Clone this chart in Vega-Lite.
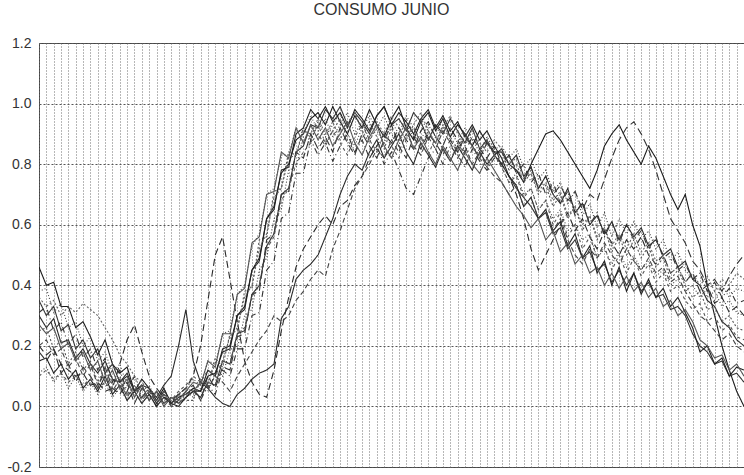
{
"$schema": "https://vega.github.io/schema/vega-lite/v6.json",
"width": 705, "height": 424,
"autosize": {"type": "none"},
"padding": {"left": 39, "top": 43, "right": 0, "bottom": 8},
"background": "white",
"title": {"text": "CONSUMO JUNIO", "font": "Liberation Sans", "fontSize": 16, "fontWeight": "normal", "color": "#333", "offset": 18, "dx": -10},
"config": {"view": {"stroke": "#444", "strokeWidth": 1}},
"data": {"values": [
{"t":0,"A":0.46,"B":0.35,"C":0.20,"D":0.30,"E":0.38,"F":0.18,"G":0.25,"H":0.15,"I":0.31,"J":0.20,"K":0.11,"L":0.27,"M":0.36,"N":0.10},
{"t":1,"A":0.40,"B":0.30,"C":0.17,"D":0.26,"E":0.39,"F":0.15,"G":0.26,"H":0.16,"I":0.33,"J":0.22,"K":0.13,"L":0.24,"M":0.33,"N":0.12},
{"t":2,"A":0.41,"B":0.33,"C":0.19,"D":0.29,"E":0.31,"F":0.19,"G":0.19,"H":0.11,"I":0.25,"J":0.17,"K":0.08,"L":0.26,"M":0.35,"N":0.09},
{"t":3,"A":0.33,"B":0.25,"C":0.14,"D":0.21,"E":0.34,"F":0.11,"G":0.22,"H":0.14,"I":0.28,"J":0.19,"K":0.11,"L":0.19,"M":0.30,"N":0.11},
{"t":4,"A":0.33,"B":0.27,"C":0.12,"D":0.22,"E":0.26,"F":0.14,"G":0.14,"H":0.09,"I":0.20,"J":0.13,"K":0.06,"L":0.21,"M":0.33,"N":0.08},
{"t":5,"A":0.26,"B":0.19,"C":0.10,"D":0.16,"E":0.28,"F":0.08,"G":0.18,"H":0.12,"I":0.24,"J":0.16,"K":0.10,"L":0.15,"M":0.31,"N":0.10},
{"t":6,"A":0.28,"B":0.22,"C":0.11,"D":0.19,"E":0.20,"F":0.13,"G":0.12,"H":0.06,"I":0.16,"J":0.10,"K":0.05,"L":0.18,"M":0.34,"N":0.07},
{"t":7,"A":0.23,"B":0.16,"C":0.07,"D":0.14,"E":0.23,"F":0.10,"G":0.15,"H":0.09,"I":0.19,"J":0.14,"K":0.08,"L":0.12,"M":0.32,"N":0.09},
{"t":8,"A":0.17,"B":0.19,"C":0.08,"D":0.11,"E":0.15,"F":0.06,"G":0.08,"H":0.05,"I":0.12,"J":0.07,"K":0.04,"L":0.15,"M":0.30,"N":0.06},
{"t":9,"A":0.22,"B":0.11,"C":0.05,"D":0.15,"E":0.18,"F":0.13,"G":0.13,"H":0.10,"I":0.16,"J":0.11,"K":0.08,"L":0.08,"M":0.26,"N":0.08},
{"t":10,"A":0.14,"B":0.14,"C":0.06,"D":0.09,"E":0.11,"F":0.06,"G":0.07,"H":0.04,"I":0.08,"J":0.05,"K":0.03,"L":0.12,"M":0.22,"N":0.05},
{"t":11,"A":0.11,"B":0.08,"C":0.14,"D":0.08,"E":0.14,"F":0.04,"G":0.10,"H":0.07,"I":0.12,"J":0.09,"K":0.06,"L":0.06,"M":0.17,"N":0.07},
{"t":12,"A":0.13,"B":0.10,"C":0.22,"D":0.11,"E":0.07,"F":0.08,"G":0.04,"H":0.02,"I":0.05,"J":0.03,"K":0.02,"L":0.09,"M":0.14,"N":0.04},
{"t":13,"A":0.05,"B":0.05,"C":0.27,"D":0.05,"E":0.10,"F":0.01,"G":0.07,"H":0.05,"I":0.10,"J":0.07,"K":0.05,"L":0.03,"M":0.10,"N":0.06},
{"t":14,"A":0.09,"B":0.07,"C":0.18,"D":0.07,"E":0.05,"F":0.06,"G":0.03,"H":0.01,"I":0.03,"J":0.02,"K":0.01,"L":0.07,"M":0.08,"N":0.03},
{"t":15,"A":0.06,"B":0.02,"C":0.10,"D":0.06,"E":0.07,"F":0.04,"G":0.06,"H":0.04,"I":0.06,"J":0.05,"K":0.04,"L":0.02,"M":0.05,"N":0.05},
{"t":16,"A":0.02,"B":0.05,"C":0.06,"D":0.03,"E":0.02,"F":0.00,"G":0.01,"H":0.00,"I":0.01,"J":0.01,"K":0.00,"L":0.05,"M":0.04,"N":0.02},
{"t":17,"A":0.06,"B":0.01,"C":0.03,"D":0.07,"E":0.04,"F":0.06,"G":0.04,"H":0.03,"I":0.05,"J":0.04,"K":0.03,"L":0.00,"M":0.02,"N":0.04},
{"t":18,"A":0.01,"B":0.03,"C":0.02,"D":0.10,"E":0.01,"F":0.00,"G":0.00,"H":0.01,"I":0.01,"J":0.01,"K":0.00,"L":0.03,"M":0.03,"N":0.02},
{"t":19,"A":0.03,"B":0.01,"C":0.04,"D":0.20,"E":0.04,"F":0.02,"G":0.03,"H":0.00,"I":0.04,"J":0.04,"K":0.03,"L":0.02,"M":0.01,"N":0.05},
{"t":20,"A":0.04,"B":0.03,"C":0.06,"D":0.32,"E":0.06,"F":0.05,"G":0.02,"H":0.03,"I":0.03,"J":0.06,"K":0.05,"L":0.05,"M":0.04,"N":0.07},
{"t":21,"A":0.06,"B":0.05,"C":0.10,"D":0.15,"E":0.09,"F":0.07,"G":0.02,"H":0.05,"I":0.06,"J":0.05,"K":0.03,"L":0.08,"M":0.04,"N":0.10},
{"t":22,"A":0.05,"B":0.03,"C":0.20,"D":0.08,"E":0.07,"F":0.02,"G":0.09,"H":0.05,"I":0.02,"J":0.08,"K":0.06,"L":0.07,"M":0.08,"N":0.08},
{"t":23,"A":0.12,"B":0.08,"C":0.35,"D":0.06,"E":0.15,"F":0.10,"G":0.07,"H":0.10,"I":0.07,"J":0.06,"K":0.05,"L":0.15,"M":0.08,"N":0.12},
{"t":24,"A":0.10,"B":0.07,"C":0.50,"D":0.03,"E":0.14,"F":0.06,"G":0.16,"H":0.11,"I":0.04,"J":0.10,"K":0.11,"L":0.13,"M":0.14,"N":0.10},
{"t":25,"A":0.19,"B":0.15,"C":0.56,"D":0.01,"E":0.24,"F":0.13,"G":0.13,"H":0.18,"I":0.12,"J":0.08,"K":0.10,"L":0.24,"M":0.15,"N":0.15},
{"t":26,"A":0.20,"B":0.14,"C":0.42,"D":0.00,"E":0.25,"F":0.12,"G":0.24,"H":0.19,"I":0.10,"J":0.05,"K":0.19,"L":0.24,"M":0.23,"N":0.14},
{"t":27,"A":0.30,"B":0.24,"C":0.28,"D":0.04,"E":0.37,"F":0.23,"G":0.25,"H":0.30,"I":0.19,"J":0.10,"K":0.19,"L":0.37,"M":0.26,"N":0.24},
{"t":28,"A":0.33,"B":0.25,"C":0.15,"D":0.06,"E":0.40,"F":0.24,"G":0.38,"H":0.32,"I":0.19,"J":0.14,"K":0.30,"L":0.39,"M":0.36,"N":0.26},
{"t":29,"A":0.45,"B":0.37,"C":0.08,"D":0.09,"E":0.53,"F":0.37,"G":0.39,"H":0.45,"I":0.30,"J":0.18,"K":0.32,"L":0.54,"M":0.40,"N":0.36},
{"t":30,"A":0.49,"B":0.40,"C":0.04,"D":0.11,"E":0.57,"F":0.38,"G":0.55,"H":0.48,"I":0.31,"J":0.22,"K":0.45,"L":0.56,"M":0.52,"N":0.40},
{"t":31,"A":0.62,"B":0.53,"C":0.03,"D":0.12,"E":0.70,"F":0.55,"G":0.56,"H":0.62,"I":0.45,"J":0.25,"K":0.49,"L":0.70,"M":0.57,"N":0.52},
{"t":32,"A":0.66,"B":0.57,"C":0.12,"D":0.14,"E":0.72,"F":0.57,"G":0.71,"H":0.65,"I":0.48,"J":0.30,"K":0.62,"L":0.71,"M":0.69,"N":0.56},
{"t":33,"A":0.77,"B":0.70,"C":0.25,"D":0.29,"E":0.83,"F":0.70,"G":0.72,"H":0.78,"I":0.62,"J":0.28,"K":0.65,"L":0.84,"M":0.72,"N":0.68},
{"t":34,"A":0.80,"B":0.72,"C":0.36,"D":0.33,"E":0.83,"F":0.71,"G":0.84,"H":0.79,"I":0.64,"J":0.30,"K":0.78,"L":0.82,"M":0.82,"N":0.72},
{"t":35,"A":0.88,"B":0.84,"C":0.46,"D":0.42,"E":0.92,"F":0.84,"G":0.83,"H":0.90,"I":0.77,"J":0.35,"K":0.79,"L":0.92,"M":0.83,"N":0.80},
{"t":36,"A":0.90,"B":0.86,"C":0.52,"D":0.45,"E":0.90,"F":0.82,"G":0.92,"H":0.92,"I":0.77,"J":0.38,"K":0.89,"L":0.87,"M":0.91,"N":0.84},
{"t":37,"A":0.95,"B":0.93,"C":0.56,"D":0.47,"E":0.96,"F":0.90,"G":0.88,"H":0.98,"I":0.88,"J":0.42,"K":0.88,"L":0.93,"M":0.90,"N":0.87},
{"t":38,"A":0.97,"B":0.92,"C":0.60,"D":0.50,"E":0.91,"F":0.85,"G":0.93,"H":0.95,"I":0.83,"J":0.45,"K":0.94,"L":0.88,"M":0.95,"N":0.90},
{"t":39,"A":0.93,"B":0.98,"C":0.63,"D":0.56,"E":0.95,"F":0.89,"G":0.87,"H":0.99,"I":0.87,"J":0.43,"K":0.89,"L":0.92,"M":0.90,"N":0.86},
{"t":40,"A":0.99,"B":0.95,"C":0.60,"D":0.62,"E":0.89,"F":0.84,"G":0.91,"H":0.94,"I":0.81,"J":0.52,"K":0.93,"L":0.86,"M":0.94,"N":0.91},
{"t":41,"A":0.94,"B":0.99,"C":0.66,"D":0.70,"E":0.93,"F":0.92,"G":0.95,"H":0.97,"I":0.86,"J":0.58,"K":0.97,"L":0.90,"M":0.88,"N":0.87},
{"t":42,"A":0.90,"B":0.93,"C":0.68,"D":0.76,"E":0.97,"F":0.87,"G":0.88,"H":0.92,"I":0.90,"J":0.65,"K":0.90,"L":0.94,"M":0.93,"N":0.83},
{"t":43,"A":0.96,"B":0.97,"C":0.73,"D":0.80,"E":0.90,"F":0.83,"G":0.84,"H":0.98,"I":0.84,"J":0.72,"K":0.86,"L":0.87,"M":0.97,"N":0.89},
{"t":44,"A":0.92,"B":0.94,"C":0.76,"D":0.78,"E":0.94,"F":0.90,"G":0.90,"H":0.95,"I":0.88,"J":0.76,"K":0.92,"L":0.83,"M":0.91,"N":0.93},
{"t":45,"A":0.98,"B":0.90,"C":0.82,"D":0.84,"E":0.88,"F":0.86,"G":0.94,"H":0.91,"I":0.82,"J":0.80,"K":0.96,"L":0.89,"M":0.87,"N":0.88},
{"t":46,"A":0.93,"B":0.96,"C":0.86,"D":0.88,"E":0.92,"F":0.82,"G":0.89,"H":0.96,"I":0.86,"J":0.85,"K":0.91,"L":0.93,"M":0.94,"N":0.84},
{"t":47,"A":0.89,"B":0.99,"C":0.90,"D":0.82,"E":0.96,"F":0.88,"G":0.85,"H":0.99,"I":0.80,"J":0.82,"K":0.87,"L":0.86,"M":0.90,"N":0.90},
{"t":48,"A":0.95,"B":0.93,"C":0.87,"D":0.86,"E":0.90,"F":0.93,"G":0.92,"H":0.93,"I":0.84,"J":0.88,"K":0.94,"L":0.82,"M":0.96,"N":0.86},
{"t":49,"A":0.99,"B":0.95,"C":0.92,"D":0.90,"E":0.86,"F":0.86,"G":0.88,"H":0.97,"I":0.78,"J":0.84,"K":0.90,"L":0.88,"M":0.92,"N":0.82},
{"t":50,"A":0.92,"B":0.91,"C":0.88,"D":0.84,"E":0.93,"F":0.82,"G":0.95,"H":0.94,"I":0.72,"J":0.90,"K":0.96,"L":0.92,"M":0.88,"N":0.88},
{"t":51,"A":0.88,"B":0.97,"C":0.85,"D":0.80,"E":0.89,"F":0.89,"G":0.90,"H":0.90,"I":0.70,"J":0.86,"K":0.92,"L":0.85,"M":0.93,"N":0.92},
{"t":52,"A":0.94,"B":0.94,"C":0.91,"D":0.87,"E":0.95,"F":0.85,"G":0.86,"H":0.95,"I":0.76,"J":0.83,"K":0.88,"L":0.89,"M":0.97,"N":0.87},
{"t":53,"A":0.97,"B":0.88,"C":0.94,"D":0.83,"E":0.91,"F":0.90,"G":0.91,"H":0.98,"I":0.82,"J":0.89,"K":0.93,"L":0.84,"M":0.91,"N":0.83},
{"t":54,"A":0.91,"B":0.93,"C":0.89,"D":0.79,"E":0.87,"F":0.87,"G":0.87,"H":0.92,"I":0.85,"J":0.85,"K":0.89,"L":0.80,"M":0.87,"N":0.89},
{"t":55,"A":0.95,"B":0.90,"C":0.86,"D":0.85,"E":0.92,"F":0.83,"G":0.93,"H":0.96,"I":0.80,"J":0.91,"K":0.95,"L":0.86,"M":0.92,"N":0.85},
{"t":56,"A":0.89,"B":0.95,"C":0.92,"D":0.81,"E":0.88,"F":0.88,"G":0.89,"H":0.91,"I":0.86,"J":0.87,"K":0.91,"L":0.82,"M":0.96,"N":0.81},
{"t":57,"A":0.93,"B":0.91,"C":0.88,"D":0.86,"E":0.84,"F":0.84,"G":0.85,"H":0.94,"I":0.83,"J":0.82,"K":0.87,"L":0.78,"M":0.90,"N":0.87},
{"t":58,"A":0.90,"B":0.87,"C":0.84,"D":0.82,"E":0.90,"F":0.89,"G":0.90,"H":0.89,"I":0.79,"J":0.86,"K":0.92,"L":0.84,"M":0.86,"N":0.83},
{"t":59,"A":0.86,"B":0.92,"C":0.89,"D":0.78,"E":0.86,"F":0.86,"G":0.86,"H":0.93,"I":0.85,"J":0.80,"K":0.88,"L":0.80,"M":0.91,"N":0.86},
{"t":60,"A":0.91,"B":0.85,"C":0.85,"D":0.84,"E":0.82,"F":0.82,"G":0.83,"H":0.88,"I":0.81,"J":0.84,"K":0.84,"L":0.77,"M":0.87,"N":0.82},
{"t":61,"A":0.87,"B":0.88,"C":0.82,"D":0.80,"E":0.87,"F":0.87,"G":0.88,"H":0.91,"I":0.78,"J":0.79,"K":0.89,"L":0.82,"M":0.84,"N":0.79},
{"t":62,"A":0.84,"B":0.83,"C":0.86,"D":0.83,"E":0.83,"F":0.84,"G":0.84,"H":0.86,"I":0.82,"J":0.76,"K":0.85,"L":0.78,"M":0.88,"N":0.83},
{"t":63,"A":0.84,"B":0.80,"C":0.80,"D":0.85,"E":0.79,"F":0.80,"G":0.84,"H":0.82,"I":0.80,"J":0.74,"K":0.86,"L":0.74,"M":0.85,"N":0.79},
{"t":64,"A":0.80,"B":0.76,"C":0.76,"D":0.80,"E":0.74,"F":0.83,"G":0.78,"H":0.76,"I":0.83,"J":0.70,"K":0.82,"L":0.70,"M":0.80,"N":0.74},
{"t":65,"A":0.78,"B":0.72,"C":0.70,"D":0.83,"E":0.77,"F":0.78,"G":0.80,"H":0.73,"I":0.77,"J":0.73,"K":0.85,"L":0.66,"M":0.82,"N":0.76},
{"t":66,"A":0.74,"B":0.69,"C":0.62,"D":0.76,"E":0.70,"F":0.75,"G":0.74,"H":0.66,"I":0.80,"J":0.66,"K":0.79,"L":0.63,"M":0.75,"N":0.69},
{"t":67,"A":0.80,"B":0.66,"C":0.52,"D":0.79,"E":0.72,"F":0.79,"G":0.77,"H":0.69,"I":0.74,"J":0.69,"K":0.82,"L":0.59,"M":0.78,"N":0.72},
{"t":68,"A":0.85,"B":0.62,"C":0.45,"D":0.72,"E":0.65,"F":0.72,"G":0.70,"H":0.62,"I":0.77,"J":0.62,"K":0.75,"L":0.62,"M":0.71,"N":0.65},
{"t":69,"A":0.90,"B":0.64,"C":0.50,"D":0.76,"E":0.68,"F":0.76,"G":0.73,"H":0.65,"I":0.70,"J":0.65,"K":0.78,"L":0.55,"M":0.74,"N":0.68},
{"t":70,"A":0.91,"B":0.57,"C":0.55,"D":0.70,"E":0.62,"F":0.70,"G":0.66,"H":0.58,"I":0.74,"J":0.58,"K":0.71,"L":0.58,"M":0.68,"N":0.60},
{"t":71,"A":0.88,"B":0.59,"C":0.60,"D":0.67,"E":0.65,"F":0.73,"G":0.70,"H":0.61,"I":0.67,"J":0.62,"K":0.74,"L":0.51,"M":0.71,"N":0.64},
{"t":72,"A":0.84,"B":0.52,"C":0.64,"D":0.72,"E":0.58,"F":0.68,"G":0.62,"H":0.53,"I":0.71,"J":0.55,"K":0.67,"L":0.54,"M":0.63,"N":0.56},
{"t":73,"A":0.80,"B":0.55,"C":0.58,"D":0.64,"E":0.60,"F":0.71,"G":0.66,"H":0.57,"I":0.63,"J":0.50,"K":0.71,"L":0.47,"M":0.66,"N":0.60},
{"t":74,"A":0.76,"B":0.49,"C":0.62,"D":0.67,"E":0.55,"F":0.65,"G":0.58,"H":0.49,"I":0.68,"J":0.47,"K":0.63,"L":0.50,"M":0.60,"N":0.52},
{"t":75,"A":0.72,"B":0.51,"C":0.56,"D":0.60,"E":0.57,"F":0.70,"G":0.63,"H":0.53,"I":0.60,"J":0.52,"K":0.67,"L":0.44,"M":0.63,"N":0.56},
{"t":76,"A":0.78,"B":0.45,"C":0.52,"D":0.63,"E":0.49,"F":0.68,"G":0.55,"H":0.44,"I":0.64,"J":0.49,"K":0.59,"L":0.46,"M":0.56,"N":0.49},
{"t":77,"A":0.86,"B":0.47,"C":0.58,"D":0.57,"E":0.52,"F":0.75,"G":0.59,"H":0.48,"I":0.56,"J":0.54,"K":0.64,"L":0.40,"M":0.59,"N":0.53},
{"t":78,"A":0.90,"B":0.41,"C":0.54,"D":0.61,"E":0.47,"F":0.82,"G":0.51,"H":0.40,"I":0.61,"J":0.50,"K":0.56,"L":0.44,"M":0.53,"N":0.45},
{"t":79,"A":0.93,"B":0.45,"C":0.50,"D":0.55,"E":0.51,"F":0.88,"G":0.56,"H":0.46,"I":0.54,"J":0.47,"K":0.62,"L":0.39,"M":0.57,"N":0.50},
{"t":80,"A":0.88,"B":0.40,"C":0.55,"D":0.60,"E":0.46,"F":0.92,"G":0.50,"H":0.38,"I":0.60,"J":0.52,"K":0.57,"L":0.43,"M":0.52,"N":0.44},
{"t":81,"A":0.84,"B":0.44,"C":0.52,"D":0.56,"E":0.50,"F":0.94,"G":0.55,"H":0.44,"I":0.55,"J":0.48,"K":0.61,"L":0.38,"M":0.57,"N":0.49},
{"t":82,"A":0.80,"B":0.38,"C":0.56,"D":0.59,"E":0.45,"F":0.90,"G":0.49,"H":0.37,"I":0.58,"J":0.45,"K":0.55,"L":0.41,"M":0.51,"N":0.43},
{"t":83,"A":0.86,"B":0.41,"C":0.50,"D":0.53,"E":0.48,"F":0.85,"G":0.53,"H":0.42,"I":0.52,"J":0.49,"K":0.58,"L":0.36,"M":0.54,"N":0.47},
{"t":84,"A":0.82,"B":0.36,"C":0.47,"D":0.55,"E":0.43,"F":0.78,"G":0.46,"H":0.36,"I":0.56,"J":0.44,"K":0.52,"L":0.39,"M":0.48,"N":0.41},
{"t":85,"A":0.76,"B":0.37,"C":0.50,"D":0.50,"E":0.45,"F":0.70,"G":0.49,"H":0.39,"I":0.49,"J":0.46,"K":0.55,"L":0.33,"M":0.50,"N":0.44},
{"t":86,"A":0.70,"B":0.32,"C":0.44,"D":0.52,"E":0.40,"F":0.62,"G":0.42,"H":0.33,"I":0.51,"J":0.41,"K":0.48,"L":0.35,"M":0.44,"N":0.38},
{"t":87,"A":0.65,"B":0.33,"C":0.46,"D":0.46,"E":0.42,"F":0.58,"G":0.45,"H":0.36,"I":0.45,"J":0.43,"K":0.51,"L":0.30,"M":0.46,"N":0.40},
{"t":88,"A":0.70,"B":0.30,"C":0.41,"D":0.48,"E":0.38,"F":0.54,"G":0.40,"H":0.31,"I":0.47,"J":0.38,"K":0.45,"L":0.32,"M":0.41,"N":0.35},
{"t":89,"A":0.60,"B":0.24,"C":0.44,"D":0.42,"E":0.40,"F":0.48,"G":0.36,"H":0.26,"I":0.42,"J":0.34,"K":0.42,"L":0.28,"M":0.44,"N":0.32},
{"t":90,"A":0.53,"B":0.20,"C":0.38,"D":0.40,"E":0.36,"F":0.45,"G":0.38,"H":0.18,"I":0.44,"J":0.30,"K":0.40,"L":0.22,"M":0.40,"N":0.34},
{"t":91,"A":0.40,"B":0.18,"C":0.40,"D":0.35,"E":0.39,"F":0.40,"G":0.32,"H":0.20,"I":0.38,"J":0.28,"K":0.36,"L":0.20,"M":0.43,"N":0.28},
{"t":92,"A":0.30,"B":0.14,"C":0.34,"D":0.33,"E":0.35,"F":0.42,"G":0.33,"H":0.14,"I":0.41,"J":0.25,"K":0.38,"L":0.16,"M":0.38,"N":0.30},
{"t":93,"A":0.20,"B":0.15,"C":0.36,"D":0.28,"E":0.40,"F":0.38,"G":0.28,"H":0.16,"I":0.36,"J":0.22,"K":0.33,"L":0.17,"M":0.42,"N":0.25},
{"t":94,"A":0.12,"B":0.10,"C":0.31,"D":0.26,"E":0.36,"F":0.43,"G":0.30,"H":0.10,"I":0.39,"J":0.24,"K":0.35,"L":0.12,"M":0.40,"N":0.27},
{"t":95,"A":0.05,"B":0.11,"C":0.33,"D":0.22,"E":0.39,"F":0.47,"G":0.26,"H":0.13,"I":0.34,"J":0.20,"K":0.31,"L":0.14,"M":0.44,"N":0.23},
{"t":96,"A":0.00,"B":0.08,"C":0.30,"D":0.20,"E":0.38,"F":0.50,"G":0.25,"H":0.12,"I":0.35,"J":0.18,"K":0.30,"L":0.10,"M":0.42,"N":0.22}
]},
"transform": [{"fold": ["A","B","C","D","E","F","G","H","I","J","K","L","M","N"], "as": ["s","v"]}],
"mark": {"type": "line", "strokeWidth": 1.1, "clip": true},
"encoding": {
  "x": {"field": "t", "type": "quantitative", "scale": {"domain": [0, 96], "nice": false},
        "axis": {"title": null, "labels": false, "ticks": false, "domain": false, "grid": true, "tickCount": 96, "gridDash": [1, 2], "gridColor": "#6f6f6f", "gridWidth": 1}},
  "y": {"field": "v", "type": "quantitative", "scale": {"domain": [-0.2, 1.2], "nice": false},
        "axis": {"title": null, "values": [-0.2, 0, 0.2, 0.4, 0.6, 0.8, 1.0, 1.2], "labelExpr": "datum.value < 0 ? '-0.2' : format(datum.value, '.1f')", "ticks": false, "domain": false, "labelPadding": 8, "labelFont": "Liberation Sans", "labelFontSize": 14, "labelColor": "#333", "grid": true, "gridDash": [2, 2], "gridColor": "#555", "gridWidth": 1}},
  "color": {"field": "s", "type": "nominal", "legend": null,
            "scale": {"domain": ["A","B","C","D","E","F","G","H","I","J","K","L","M","N"],
                      "range": ["#1a1a1a","#333","#2a2a2a","#2a2a2a","#444","#333","#555","#222","#333","#444","#3a3a3a","#555","#666","#555"]}},
  "strokeDash": {"field": "s", "type": "nominal", "legend": null,
            "scale": {"domain": ["A","B","C","D","E","F","G","H","I","J","K","L","M","N"],
                      "range": [[1,0],[1,0],[7,4],[1,0],[1,2],[8,4],[2,2],[1,0],[6,3,1,3],[5,3],[1,2],[1,0],[2,2],[3,3]]}}
}
}
